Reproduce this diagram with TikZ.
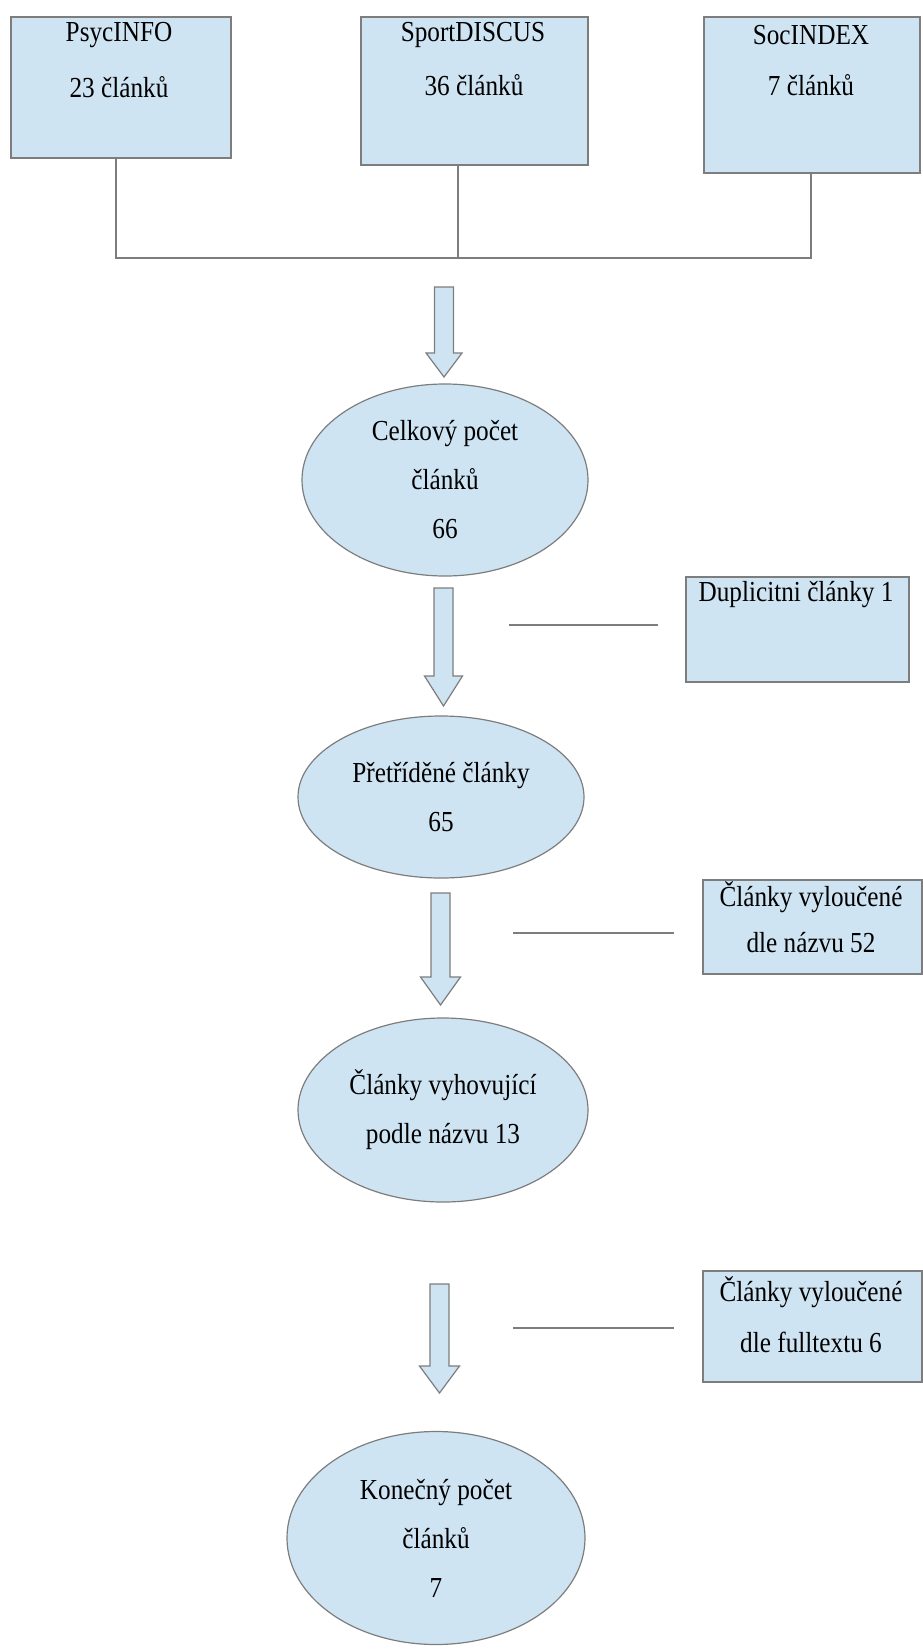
\documentclass[tikz,border=0pt]{standalone}
\usepackage{fontspec}
\setmainfont{Liberation Serif}[FakeStretch=0.87]
\usetikzlibrary{shapes.geometric}
\definecolor{boxfill}{RGB}{207,228,243}
\definecolor{edgegray}{RGB}{125,125,125}
\begin{document}
\begin{tikzpicture}[x=1pt,y=-1pt,
  every node/.style={font=\fontsize{29}{49}\selectfont, text=black},
  srcbox/.style={draw=edgegray, line width=1.5pt, fill=boxfill, rectangle, inner sep=0pt, anchor=north west},
  stage/.style={draw=edgegray, line width=1.2pt, fill=boxfill, ellipse, inner sep=0pt, align=center},
  lbl/.style={inner sep=0pt, align=center},
  link/.style={draw=edgegray, line width=1.6pt},
  barrow/.style={draw=edgegray, line width=1.2pt, fill=boxfill, line join=miter}
]
\useasboundingbox (0,0) rectangle (923,1652);

% source boxes
\node[srcbox, minimum width=220pt, minimum height=141pt] (A) at (10,16) {};
\node[srcbox, minimum width=227pt, minimum height=148pt] (B) at (360,16) {};
\node[srcbox, minimum width=216pt, minimum height=156pt] (C) at (703,16) {};
\node[lbl] (At1) at (119,35) {PsycINFO};
\node[lbl] (At2) at (119,87) {23 článků};
\node[lbl] (Bt1) at (473,35) {SportDISCUS};
\node[lbl] (Bt2) at (474,85) {36 článků};
\node[lbl] (Ct1) at (811,35) {SocINDEX};
\node[lbl] (Ct2) at (811,85) {7 článků};

% joining lines
\coordinate (jA) at (116,258);
\coordinate (jB) at (458,258);
\coordinate (jC) at (811,258);
\draw[link] (A.south -| jA) -- (jA) -- (jC) -- (C.south -| jC);
\draw[link] (B.south -| jB) -- (jB);

% block arrows
\newcommand{\blockarrow}[6]{% name, cx, top, headstart, tip, headhalf
  \draw[barrow] (#2-9.5,#3) -- (#2+9.5,#3) -- (#2+9.5,#4) -- (#2+#6,#4)
     -- (#2,#5) -- (#2-#6,#4) -- (#2-9.5,#4) -- cycle;
  \coordinate (#1) at (#2,#5);}
\blockarrow{arr1}{444}{287}{353}{377}{18}
\blockarrow{arr2}{443.5}{588}{676}{706}{19}
\blockarrow{arr3}{440.5}{893}{977}{1005}{20}
\blockarrow{arr4}{439.5}{1284}{1366}{1393}{20}

% stages
\node[stage, minimum width=286pt, minimum height=192pt] (E1) at (445,480) {Celkový počet\\článků\\66};
\node[stage, minimum width=286pt, minimum height=162pt] (E2) at (441,797) {Přetříděné články\\65};
\node[stage, minimum width=290pt, minimum height=184pt] (E3) at (443,1110) {Články vyhovující\\podle názvu 13};
\node[stage, minimum width=298pt, minimum height=213pt] (E4) at (436,1538) {Konečný počet\\článků\\7};

% exclusion boxes
\node[srcbox, minimum width=223pt, minimum height=105pt] (D1) at (685,576) {};
\node[srcbox, minimum width=219pt, minimum height=94pt] (D2) at (702,879) {};
\node[srcbox, minimum width=219pt, minimum height=111pt] (D3) at (702,1270) {};
\node[lbl] (D1t) at (796,595) {Duplicitni články 1};
\node[lbl] (D2t1) at (811,897) {Články vyloučené};
\node[lbl] (D2t2) at (811,943) {dle názvu 52};
\node[lbl] (D3t1) at (811,1292) {Články vyloučené};
\node[lbl] (D3t2) at (811,1342) {dle fulltextu 6};

% side lines
\coordinate (l1a) at (509,625); \coordinate (l1b) at (658,625);
\coordinate (l2a) at (513,933); \coordinate (l2b) at (674,933);
\coordinate (l3a) at (513,1328); \coordinate (l3b) at (674,1328);
\draw[link] (l1a) -- (l1b);
\draw[link] (l2a) -- (l2b);
\draw[link] (l3a) -- (l3b);
\end{tikzpicture}
\end{document}
